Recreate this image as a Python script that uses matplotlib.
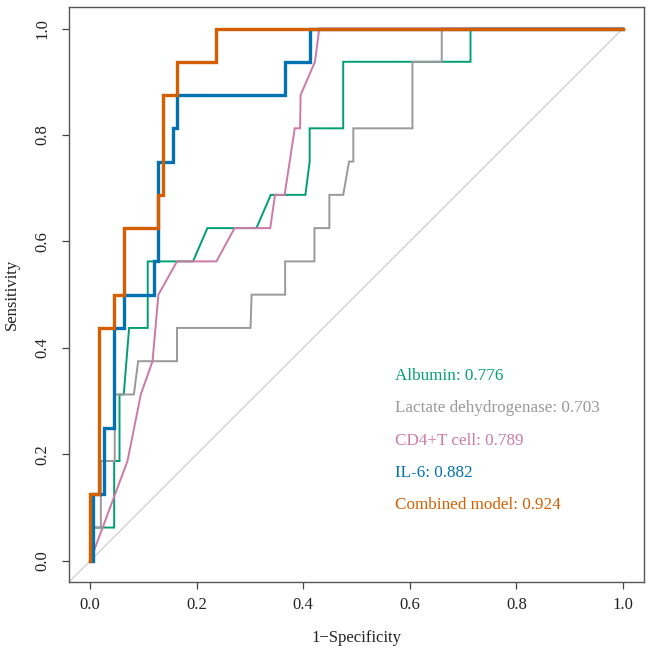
import numpy as np
import matplotlib
matplotlib.use('Agg')
import matplotlib.pyplot as plt

#============================================
# ROC curve data (1-specificity, sensitivity)
#============================================
alb_fpr = [0, 0, 0.045, 0.045, 0.055, 0.055, 0.063, 0.073, 0.108, 0.108, 0.193,
           0.22, 0.312, 0.339, 0.404, 0.412, 0.412, 0.475, 0.475, 0.714, 0.714, 1.0]
alb_tpr = [0, 0.0625, 0.0625, 0.1875, 0.1875, 0.3125, 0.3125, 0.4375, 0.4375, 0.5625, 0.5625,
           0.625, 0.625, 0.6875, 0.6875, 0.75, 0.8125, 0.8125, 0.9375, 0.9375, 1.0, 1.0]

ldh_fpr = [0, 0.005, 0.005, 0.02, 0.02, 0.046, 0.046, 0.082, 0.09, 0.163, 0.163, 0.301, 0.303,
           0.366, 0.366, 0.421, 0.421, 0.449, 0.449, 0.475, 0.486, 0.494, 0.494, 0.605, 0.605,
           0.66, 0.66, 1.0]
ldh_tpr = [0, 0, 0.0625, 0.0625, 0.1875, 0.1875, 0.3125, 0.3125, 0.375, 0.375, 0.4375, 0.4375, 0.5,
           0.5, 0.5625, 0.5625, 0.625, 0.625, 0.6875, 0.6875, 0.75, 0.75, 0.8125, 0.8125, 0.9375,
           0.9375, 1.0, 1.0]

cd4_fpr = [0, 0.07, 0.095, 0.117, 0.128, 0.163, 0.237, 0.271, 0.338, 0.347, 0.365, 0.384,
           0.394, 0.395, 0.422, 0.43, 1.0]
cd4_tpr = [0, 0.1875, 0.3125, 0.375, 0.5, 0.5625, 0.5625, 0.625, 0.625, 0.6875, 0.6875, 0.8125,
           0.8125, 0.875, 0.9375, 1.0, 1.0]

il6_fpr = [0, 0.006, 0.006, 0.025, 0.025, 0.045, 0.045, 0.063, 0.063, 0.119, 0.119, 0.127, 0.127,
           0.155, 0.155, 0.163, 0.163, 0.365, 0.365, 0.412, 0.412, 1.0]
il6_tpr = [0, 0, 0.125, 0.125, 0.25, 0.25, 0.4375, 0.4375, 0.5, 0.5, 0.5625, 0.5625, 0.75,
           0.75, 0.8125, 0.8125, 0.875, 0.875, 0.9375, 0.9375, 1.0, 1.0]

comb_fpr = [0, 0, 0.017, 0.017, 0.044, 0.044, 0.063, 0.063, 0.127, 0.127, 0.136, 0.136,
            0.163, 0.163, 0.237, 0.237, 1.0]
comb_tpr = [0, 0.125, 0.125, 0.4375, 0.4375, 0.5, 0.5, 0.625, 0.625, 0.6875, 0.6875, 0.875,
            0.875, 0.9375, 0.9375, 1.0, 1.0]

labels = ['Albumin: 0.776', 'Lactate dehydrogenase: 0.703', 'CD4+T cell: 0.789',
          'IL-6: 0.882', 'Combined model: 0.924']
colors = ['#009E73', '#999999', '#CC79A7', '#0072B2', '#D55E00']
ticks = [0.0, 0.2, 0.4, 0.6, 0.8, 1.0]

#============================================
# plot
#============================================
plt.rcParams['font.family'] = ['Liberation Serif', 'DejaVu Serif']
plt.rcParams['font.size'] = 12

fig = plt.figure(figsize=(6.5, 6.57), dpi=100)
ax = fig.add_axes([0.106, 0.114, 0.885, 0.875])

# reference diagonal
ax.plot([-0.04, 1.0], [-0.04, 1.0], color='#cccccc', lw=0.9)

curves = [(alb_fpr, alb_tpr, 1.4), (ldh_fpr, ldh_tpr, 1.4), (cd4_fpr, cd4_tpr, 1.4),
          (il6_fpr, il6_tpr, 2.4), (comb_fpr, comb_tpr, 2.4)]
for (fx, fy, lw), c in zip(curves, colors):
    ax.plot(fx, fy, color=c, lw=lw, solid_joinstyle='miter')

# AUC legend as coloured text
for i, (lab, c) in enumerate(zip(labels, colors)):
    ax.text(0.572, 0.347 - i*0.0607, lab, color=c, ha='left', va='center', fontsize=12.3)

ax.set_xlim(-0.04, 1.04)
ax.set_ylim(-0.04, 1.04)
ax.set_xticks(ticks)
ax.set_yticks(ticks)
ax.set_xticklabels(['%.1f' % t for t in ticks])
ax.set_yticklabels(['%.1f' % t for t in ticks], rotation=90, va='center')
ax.tick_params(axis='both', direction='out', length=5, width=0.9, color='#444444',
               labelcolor='#222222')
ax.tick_params(axis='x', pad=6)
ax.tick_params(axis='y', pad=8)
for sp in ax.spines.values():
    sp.set_color('#555555')
    sp.set_linewidth(1.0)

ax.set_xlabel('1\u2212Specificity', labelpad=12, color='#222222')
ax.set_ylabel('Sensitivity', labelpad=11, color='#222222')

fig.savefig('out.png', dpi=100)
